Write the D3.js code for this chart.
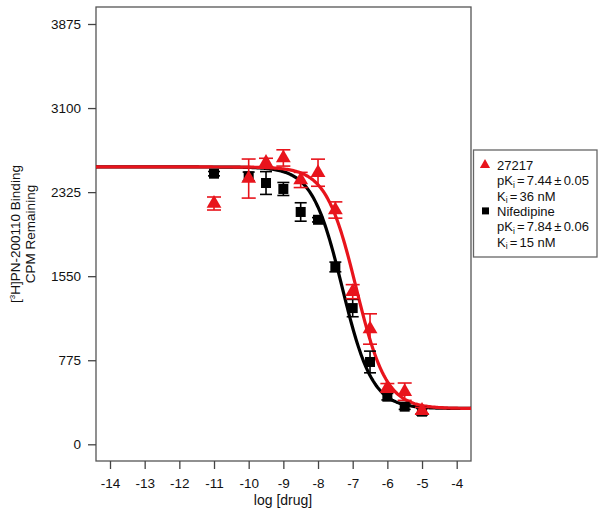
<!DOCTYPE html>
<html>
<head>
<meta charset="utf-8">
<script src="https://cdn.jsdelivr.net/npm/d3@7"></script>
<style>
  body { margin: 0; background: #fff; }
  svg { display: block; font-family: "Liberation Sans", Arial, Helvetica, sans-serif; }
</style>
</head>
<body>
<svg id="chart" width="604" height="514"></svg>
<script>
// ---- data ----
const xTicks = [-14, -13, -12, -11, -10, -9, -8, -7, -6, -5, -4];
const yTicks = [0, 775, 1550, 2325, 3100, 3875];

const logDrugRed = [-11, -10, -9.5, -9, -8.5, -8, -7.5, -7, -6.5, -6, -5.5, -5];
const cpmRed     = [2220, 2450, 2597, 2640, 2437, 2504, 2160, 1407, 1063, 520, 485, 310];
const semRed     = [60, 180, 40, 75, 70, 125, 75, 65, 140, 40, 80, 30];

const logDrugBlack = [-11, -10, -9.5, -9, -8.5, -8, -7.5, -7, -6.5, -6, -5.5, -5];
const cpmBlack     = [2495, 2470, 2409, 2354, 2142, 2070, 1635, 1256, 759, 439, 347, 301];
const semBlack     = [20, 40, 105, 60, 85, 20, 45, 80, 100, 30, 25, 30];

// fit parameters (top, bottom, logIC50, hill)
const fitRed   = { top: 2557, bottom: 330, logIC50: -6.9, hill: 1.0 };
const fitBlack = { top: 2557, bottom: 330, logIC50: -7.3, hill: 1.0 };

const legendLabels = [
  { name: "27217", pk: "7.44", pkErr: "0.05", ki: "36" },
  { name: "Nifedipine", pk: "7.84", pkErr: "0.06", ki: "15" }
];

// ---- layout ----
const svg = d3.select("#chart");
const plot = { left: 96, right: 471, top: 7, bottom: 461 };

const x = d3.scaleLinear().domain([-14, -4]).range([110, 456.7]);
const y = d3.scaleLinear().domain([0, 3875]).range([444.3, 24]);
const xMin = x.invert(plot.left), xMax = x.invert(plot.right);

// box
svg.append("rect")
  .attr("x", plot.left).attr("y", plot.top)
  .attr("width", plot.right - plot.left).attr("height", plot.bottom - plot.top)
  .attr("fill", "none").attr("stroke", "#555").attr("stroke-width", 1.3);

// axes
const hyphenFmt = d => String(d);
const xAxis = d3.axisBottom(x).tickValues(xTicks).tickSize(8).tickPadding(9).tickFormat(hyphenFmt);
const gx = svg.append("g").attr("transform", `translate(0,${plot.bottom})`).call(xAxis);
gx.select(".domain").remove();
gx.selectAll("line").attr("stroke", "#444").attr("stroke-width", 1.3);
gx.selectAll("text").attr("font-size", 13.5).attr("fill", "#111").attr("font-family", "Liberation Sans, Arial, sans-serif");

const yAxis = d3.axisLeft(y).tickValues(yTicks).tickSize(8).tickPadding(7).tickFormat(hyphenFmt);
const gy = svg.append("g").attr("transform", `translate(${plot.left},0)`).call(yAxis);
gy.select(".domain").remove();
gy.selectAll("line").attr("stroke", "#444").attr("stroke-width", 1.3);
gy.selectAll("text").attr("font-size", 13.5).attr("fill", "#111").attr("font-family", "Liberation Sans, Arial, sans-serif");

// axis titles
svg.append("text").attr("x", 283).attr("y", 505).attr("text-anchor", "middle")
  .attr("font-size", 14).attr("fill", "#111").text("log [drug]");

const yt = svg.append("g").attr("transform", "translate(0,234) rotate(-90)");
const t1 = yt.append("text").attr("x", 0).attr("y", 20).attr("text-anchor", "middle")
  .attr("font-size", 13.5).attr("fill", "#111");
t1.append("tspan").text("[");
t1.append("tspan").attr("font-size", 8).attr("dy", -5).text("3");
t1.append("tspan").attr("dy", 5).text("H]PN-200110 Binding");
yt.append("text").attr("x", 0).attr("y", 35).attr("text-anchor", "middle")
  .attr("font-size", 13.5).attr("fill", "#111").text("CPM Remaining");

// curves
function logistic(f, v) { return f.bottom + (f.top - f.bottom) / (1 + Math.pow(10, (v - f.logIC50) * f.hill)); }
const xs = d3.range(0, 301).map(i => xMin + (xMax - xMin) * i / 300);
const line = d3.line().x(d => x(d[0])).y(d => y(d[1]));

svg.append("path").datum(xs.map(v => [v, logistic(fitBlack, v)]))
  .attr("d", line).attr("fill", "none").attr("stroke", "#000").attr("stroke-width", 3.2);
svg.append("path").datum(xs.map(v => [v, logistic(fitRed, v)]))
  .attr("d", line).attr("fill", "none").attr("stroke", "#e8141c").attr("stroke-width", 3.2);

// error bars + markers
function errBars(xv, yv, ev, color, cap) {
  const g = svg.append("g").attr("stroke", color).attr("stroke-width", 1.6);
  xv.forEach((xx, i) => {
    const cx = x(xx), y1 = y(yv[i] + ev[i]), y2 = y(yv[i] - ev[i]);
    g.append("line").attr("x1", cx).attr("x2", cx).attr("y1", y1).attr("y2", y2);
    g.append("line").attr("x1", cx - cap).attr("x2", cx + cap).attr("y1", y1).attr("y2", y1);
    g.append("line").attr("x1", cx - cap).attr("x2", cx + cap).attr("y1", y2).attr("y2", y2);
  });
}
errBars(logDrugBlack, cpmBlack, semBlack, "#000", 6);
svg.append("g").selectAll("rect").data(logDrugBlack).join("rect")
  .attr("x", d => x(d) - 5).attr("y", (d, i) => y(cpmBlack[i]) - 5)
  .attr("width", 10).attr("height", 10).attr("fill", "#000");

errBars(logDrugRed, cpmRed, semRed, "#e8141c", 7);
const tri = d3.symbol().type(d3.symbolTriangle).size(95);
svg.append("g").selectAll("path").data(logDrugRed).join("path")
  .attr("transform", (d, i) => `translate(${x(d)},${y(cpmRed[i])})`)
  .attr("d", tri).attr("fill", "#e8141c");

// legend
svg.append("rect").attr("x", 473.5).attr("y", 150).attr("width", 123.5).attr("height", 107)
  .attr("fill", "#fff").attr("stroke", "#666").attr("stroke-width", 1.3);

const lg = svg.append("g").attr("font-size", 13).attr("fill", "#111");
const lx = 497, rowH = 15.3, y0 = 170;
function subLine(base, sym, rest) {
  const t = lg.append("text").attr("x", lx).attr("y", base);
  t.append("tspan").text(sym);
  t.append("tspan").attr("font-size", 8.5).attr("dy", 2.5).text("i");
  rest.forEach((r, j) => {
    const s = t.append("tspan").attr("dx", 2.2).text(r);
    if (j === 0) s.attr("dy", -2.5);
  });
}
legendLabels.forEach((L, k) => {
  const base = y0 + k * 3 * rowH;
  if (k === 0) {
    lg.append("path").attr("transform", `translate(485,${base - 5})`)
      .attr("d", d3.symbol().type(d3.symbolTriangle).size(45)).attr("fill", "#e8141c");
  } else {
    lg.append("rect").attr("x", 482).attr("y", base - 8.5).attr("width", 7).attr("height", 7).attr("fill", "#000");
  }
  lg.append("text").attr("x", lx).attr("y", base).text(L.name);
  subLine(base + rowH, "pK", ["=", L.pk, "\u00b1", L.pkErr]);
  subLine(base + 2 * rowH, "K", ["=", L.ki + " nM"]);
});
</script>
</body>
</html>
